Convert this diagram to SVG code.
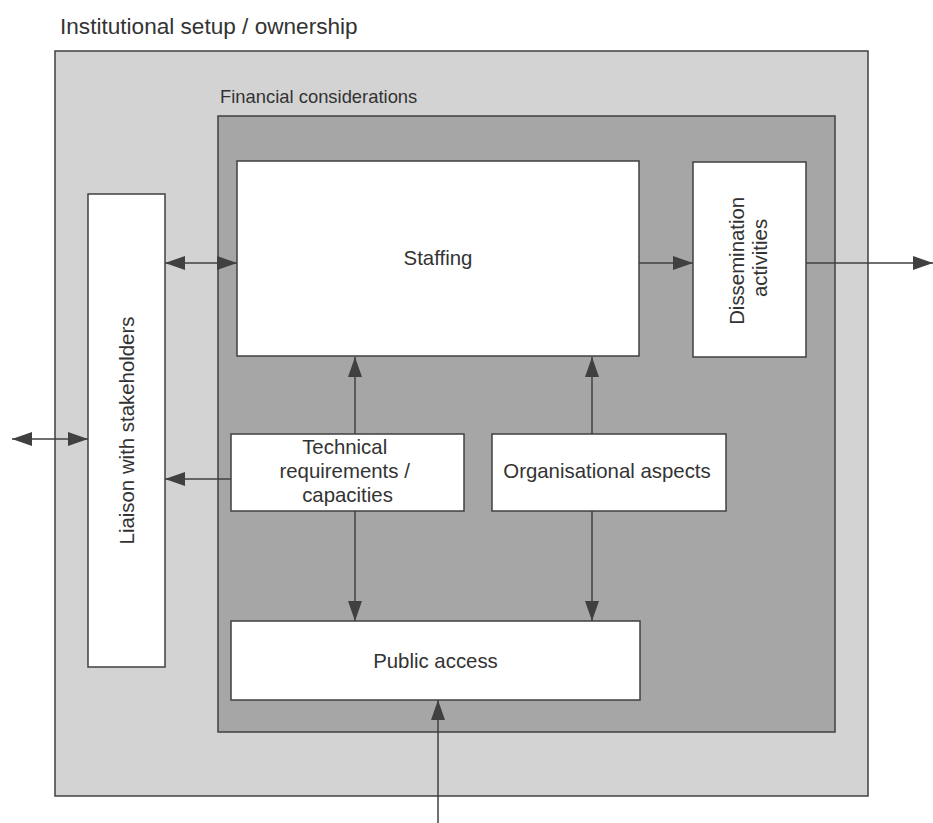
<svg xmlns="http://www.w3.org/2000/svg" width="933" height="823" viewBox="0 0 933 823">
  <defs>
    <marker id="arrow" markerUnits="userSpaceOnUse" markerWidth="20" markerHeight="14" refX="20" refY="7" orient="auto-start-reverse">
      <path d="M0,0 L20,7 L0,14 Z" fill="#404040"/>
    </marker>
  </defs>
  <style>
    .frame { stroke: #404040; stroke-width: 1.5; }
    .outer { fill: #d3d3d3; }
    .inner { fill: #a6a6a6; }
    .box { fill: #ffffff; stroke: #404040; stroke-width: 1.5; }
    .label { font-family: "Liberation Sans", Arial, sans-serif; font-size: 20.4px; fill: #333333; }
    .title { font-family: "Liberation Sans", Arial, sans-serif; fill: #333333; }
    .conn { fill: none; stroke: #404040; stroke-width: 1.5; }
  </style>

  <rect width="933" height="823" fill="#ffffff"/>

  <!-- Outer container -->
  <g id="institutional-setup">
    <text class="title" x="60" y="33.5" font-size="22.6">Institutional setup / ownership</text>
    <rect class="outer frame" x="55" y="51" width="813" height="745"/>
  </g>

  <!-- Inner container -->
  <g id="financial-considerations">
    <text class="title" x="220" y="103" font-size="18.4">Financial considerations</text>
    <rect class="inner frame" x="218" y="116" width="617" height="616"/>
  </g>

  <g id="liaison">
    <rect class="box" x="88" y="194" width="77" height="473"/>
    <text class="label" transform="translate(133.5,430.5) rotate(-90)" x="0" y="0" text-anchor="middle">Liaison with stakeholders</text>
  </g>

  <g id="staffing">
    <rect class="box" x="237" y="161" width="402" height="195"/>
    <text class="label" x="438" y="265" text-anchor="middle">Staffing</text>
  </g>

  <g id="dissemination">
    <rect class="box" x="693" y="162" width="113" height="195"/>
    <text class="label" transform="translate(0,258) rotate(-90)" text-anchor="middle">
      <tspan x="0" y="744">Dissemination</tspan>
      <tspan x="0" y="767">activities</tspan>
    </text>
  </g>

  <g id="technical">
    <rect class="box" x="231" y="434" width="233" height="77"/>
    <text class="label" text-anchor="middle">
      <tspan x="347.5" y="454">Technical</tspan>
      <tspan x="347.5" y="478">requirements /</tspan>
      <tspan x="347.5" y="502">capacities</tspan>
    </text>
  </g>

  <g id="organisational">
    <rect class="box" x="492" y="434" width="234" height="77"/>
    <text class="label" x="607" y="478" text-anchor="middle">Organisational aspects</text>
  </g>

  <g id="public-access">
    <rect class="box" x="231" y="621" width="409" height="79"/>
    <text class="label" x="435.5" y="667.5" text-anchor="middle">Public access</text>
  </g>

  <!-- Connectors -->
  <g id="connectors">
    <path class="conn" d="M165,263 H237" marker-start="url(#arrow)" marker-end="url(#arrow)"/>
    <path class="conn" d="M12,439 H88" marker-start="url(#arrow)" marker-end="url(#arrow)"/>
    <path class="conn" d="M231,479 H165" marker-end="url(#arrow)"/>
    <path class="conn" d="M639,263 H693" marker-end="url(#arrow)"/>
    <path class="conn" d="M806,263 H933" marker-end="url(#arrow)"/>
    <path class="conn" d="M355,434 V357" marker-end="url(#arrow)"/>
    <path class="conn" d="M592,434 V357" marker-end="url(#arrow)"/>
    <path class="conn" d="M355,511 V621" marker-end="url(#arrow)"/>
    <path class="conn" d="M592,511 V621" marker-end="url(#arrow)"/>
    <path class="conn" d="M438,823 V700" marker-end="url(#arrow)"/>
  </g>
</svg>
